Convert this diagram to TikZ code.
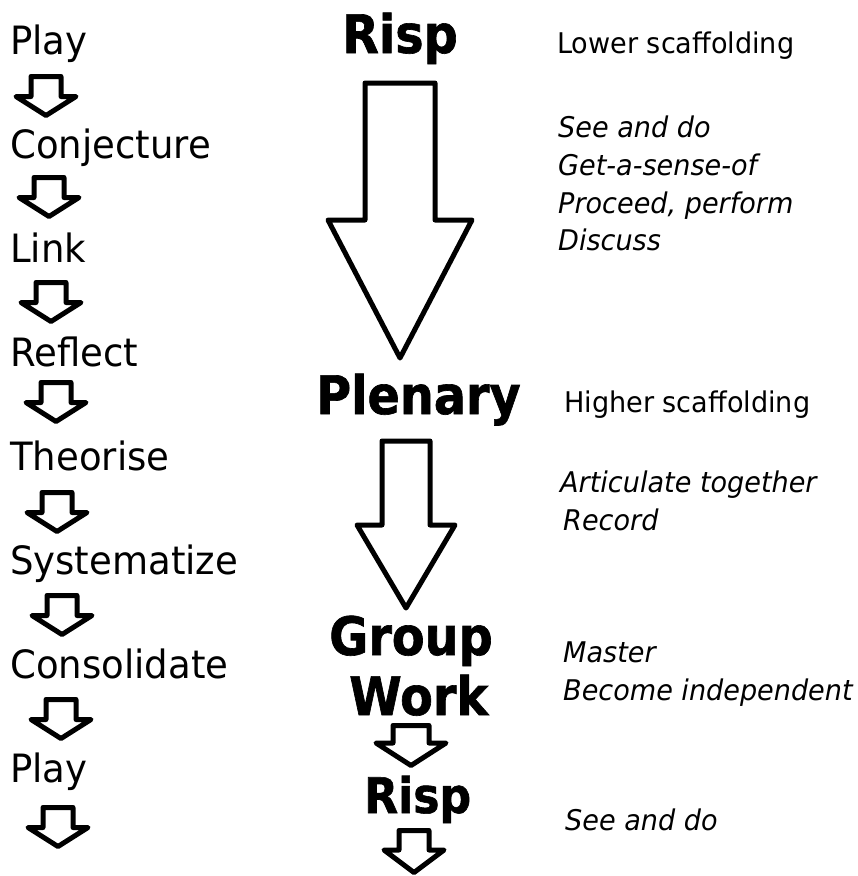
\documentclass[tikz,border=0pt]{standalone}
\usepackage{fontspec}
\setmainfont{DejaVu Sans}[FakeStretch=0.95]
\newfontfamily\boldf{DejaVu Sans}[FakeStretch=0.9, BoldFeatures={FakeBold=1.2}]
\begin{document}
\begin{tikzpicture}[x=1pt,y=-1pt]
\tikzset{
  lbl/.style={inner sep=0pt, anchor=base west, font=\fontsize{39}{39}\selectfont},
  stage/.style={inner sep=0pt, anchor=base west, font=\boldf\bfseries\fontsize{53}{53}\selectfont},
  note/.style={inner sep=0pt, anchor=base west, font=\fontsize{28.5}{28.5}\selectfont},
  inote/.style={inner sep=0pt, anchor=base west, font=\itshape\fontsize{28.5}{28.5}\selectfont},
  barrow/.style={draw=black, line width=5pt, line join=round, fill=white},
  pics/blockarr/.style n args={4}{code={
    \draw[barrow] (-#3,0) -- (#3,0) -- (#3,#1) -- (#4,#1) -- (0,#2) -- (-#4,#1) -- (-#3,#1) -- cycle;}}
}
\useasboundingbox[fill=white] (0,0) rectangle (858,876);

% left column
\node[lbl] (play1) at (10,54) {Play};
\node[lbl] (conj) at (10,158) {Conjecture};
\node[lbl] (link) at (10,262) {Link};
\node[lbl] (refl) at (10,366) {Reflect};
\node[lbl] (theo) at (10,470) {Theorise};
\node[lbl] (syst) at (10,574) {Systematize};
\node[lbl] (cons) at (10,678) {Consolidate};
\node[lbl] (play2) at (10,782) {Play};

\pic at (46,76.5) {blockarr={20}{39}{15}{30}};
\pic at (49,177.5) {blockarr={20}{39}{15}{30}};
\pic at (51,282.5) {blockarr={20}{39}{15}{30}};
\pic at (56,382.5) {blockarr={20}{39}{15}{30}};
\pic at (57,492.5) {blockarr={20}{39}{15}{30}};
\pic at (62,595.5) {blockarr={20}{39}{15}{30}};
\pic at (61,699.5) {blockarr={20}{39}{15}{30}};
\pic at (58,807.5) {blockarr={20}{39}{15}{30}};

% middle column
\node[stage] (risp1) at (342,53) {Risp};
\node[stage] (plen) at (316,414) {Plenary};
\node[stage] (group) at (329,655) {Group};
\node[stage] (work) at (349,715) {Work};
\node[stage, font=\boldf\bfseries\fontsize{49}{49}\selectfont] (risp2) at (364,813) {Risp};

\pic at (400,83) {blockarr={137}{275}{35}{72}};
\pic at (406,441) {blockarr={84}{167}{24}{49}};
\pic at (411,725.5) {blockarr={17.5}{40}{18}{35}};
\pic at (414,830.5) {blockarr={19.5}{42}{15}{30}};

% right column
\node[note] (low) at (557,53) {Lower scaffolding};
\node[inote] (see1) at (558,137) {See and do};
\node[inote] (sense) at (558,175) {Get-a-sense-of};
\node[inote] (proc) at (558,213) {Proceed, perform};
\node[inote] (disc) at (558,250) {Discuss};
\node[note] (high) at (564,412) {Higher scaffolding};
\node[inote] (art) at (560,492) {Articulate together};
\node[inote] (rec) at (563,530) {Record};
\node[inote] (mast) at (563,662) {Master};
\node[inote] (become) at (563,700) {Become independent};
\node[inote] (see2) at (565,830) {See and do};
\end{tikzpicture}
\end{document}
